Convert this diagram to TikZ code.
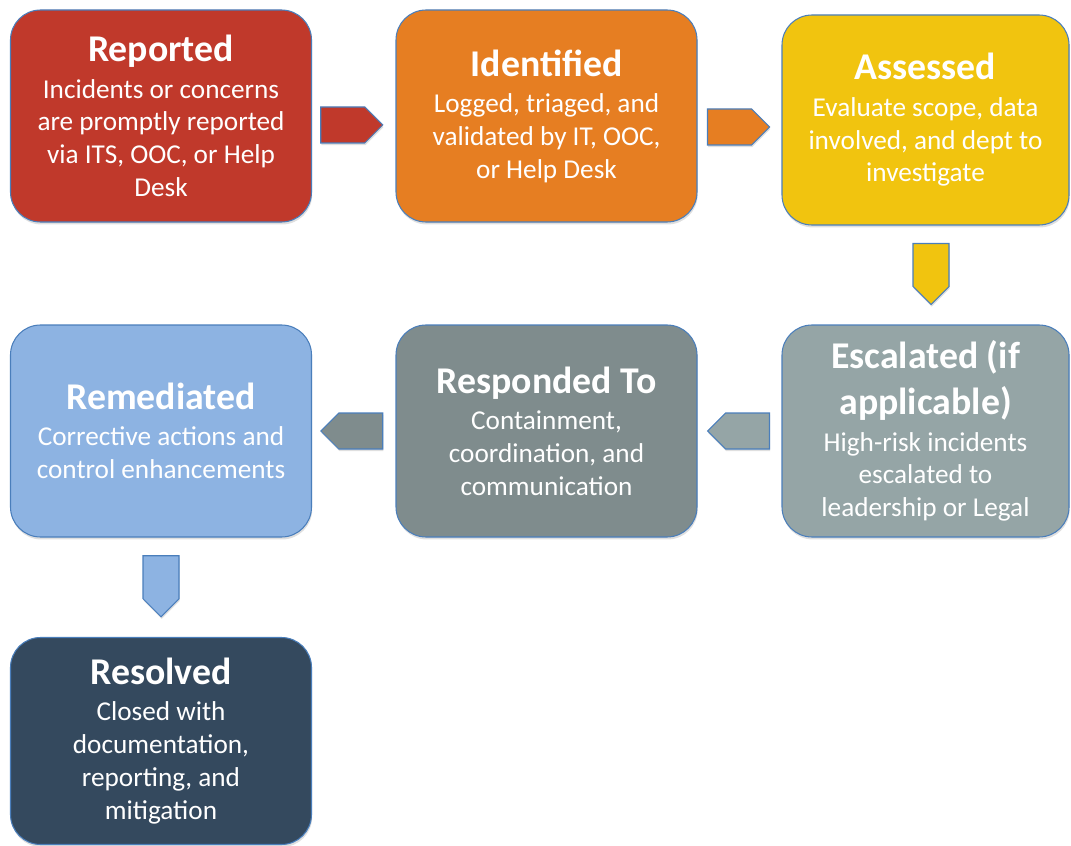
\documentclass[tikz,border=0pt]{standalone}
\usepackage{fontspec}
\setmainfont{Carlito}
\usepackage{xcolor}
\usetikzlibrary{shapes.symbols,shadows,calc}
\definecolor{Edge}{HTML}{4A7EBB}
\definecolor{Brick}{HTML}{C0392B}
\definecolor{Pumpkin}{HTML}{E67E22}
\definecolor{Sunflower}{HTML}{F1C40F}
\definecolor{Ash}{HTML}{95A5A6}
\definecolor{Slate}{HTML}{7F8C8D}
\definecolor{Cornflower}{HTML}{8DB3E2}
\definecolor{Midnight}{HTML}{34495E}
\newcommand\titleline[1]{{\fontsize{21.5}{25.5}\selectfont\bfseries #1}}
\newcommand\stagetitle[1]{\titleline{#1}\\[2pt]}

\begin{document}
\begin{tikzpicture}[
  stage/.style={rectangle,rounded corners=0.6cm,draw=Edge,line width=0.6pt,fill=#1,
    text=white,align=center,font=\fontsize{15.5}{18.7}\selectfont,
    minimum width=6.02cm,minimum height=4.24cm,
    drop shadow={shadow xshift=0.4pt,shadow yshift=-1.4pt,opacity=0.25}},
  flow/.style={signal,signal to=#1,draw=Edge,line width=0.6pt,inner sep=0pt,
    drop shadow={shadow xshift=0.4pt,shadow yshift=-1.2pt,opacity=0.25}},
  across/.style={flow=#1,minimum width=1.24cm,minimum height=0.72cm},
  down/.style={flow=south,minimum width=0.72cm,minimum height=0.86cm}]
  \useasboundingbox (0,0) rectangle (21.42,-16.92);
  \node[stage=Brick] (rep) at (3.22,-2.32) {\stagetitle{Reported}Incidents or concerns\\are promptly reported\\via ITS, OOC, or Help\\Desk};
  \node[stage=Pumpkin] (ide) at (10.93,-2.32) {\stagetitle{Identified}Logged, triaged, and\\validated by IT, OOC,\\or Help Desk};
  \node[stage=Sunflower,minimum width=5.74cm,minimum height=4.2cm] (ass) at (18.51,-2.4) {\stagetitle{Assessed}Evaluate scope, data\\involved, and dept to\\investigate};
  \node[stage=Ash,minimum width=5.74cm] (esc) at (18.51,-8.62) {\titleline{Escalated (if}\\[6pt]\stagetitle{applicable)}High-risk incidents\\escalated to\\leadership or Legal};
  \node[stage=Slate] (rsp) at (10.93,-8.62) {\stagetitle{Responded To}Containment,\\coordination, and\\communication};
  \node[stage=Cornflower] (rem) at (3.22,-8.62) {\stagetitle{Remediated}Corrective actions and\\control enhancements};
  \node[stage=Midnight,minimum height=4.14cm] (rsv) at (3.22,-14.82) {\stagetitle{Resolved}Closed with\\documentation,\\reporting, and\\mitigation};
  \node[across=east,fill=Brick,xshift=-0.22cm,yshift=-0.18cm] (a1) at ($(rep.east)!0.5!(ide.west)$) {};
  \node[across=east,fill=Pumpkin,xshift=-0.2cm,yshift=-0.18cm] (a2) at ($(ide.east)!0.5!(ass.west)$) {};
  \node[down,fill=Sunflower,xshift=0.11cm,yshift=0.2cm] (a3) at ($(ass.south)!0.5!(esc.north)$) {};
  \node[across=west,fill=Ash,xshift=0.16cm] (a4) at ($(esc.west)!0.5!(rsp.east)$) {};
  \node[across=west,fill=Slate,xshift=0.14cm] (a5) at ($(rsp.west)!0.5!(rem.east)$) {};
  \node[down,fill=Cornflower,yshift=0.2cm] (a6) at ($(rem.south)!0.5!(rsv.north)$) {};
\end{tikzpicture}
\end{document}
